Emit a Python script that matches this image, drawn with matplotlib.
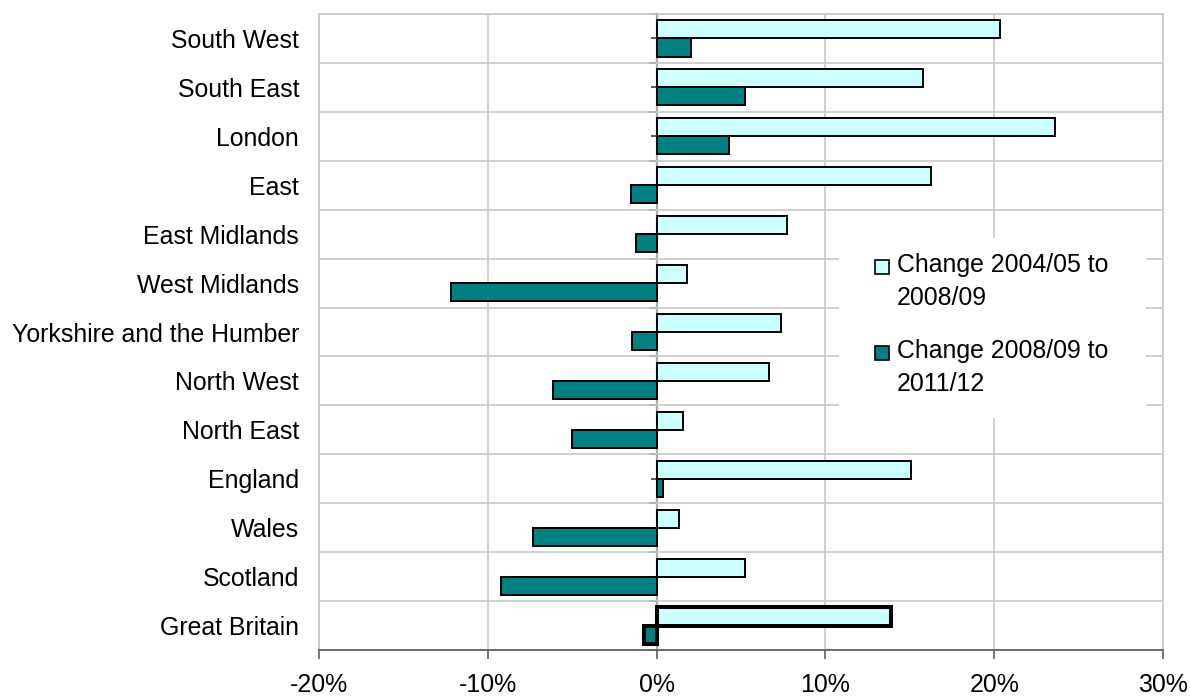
import matplotlib
matplotlib.use("Agg")
import matplotlib.pyplot as plt
from matplotlib.patches import Rectangle
import numpy as np

plt.rcParams['font.family'] = ['Liberation Sans', 'DejaVu Sans']

regions = ["South West", "South East", "London", "East", "East Midlands",
           "West Midlands", "Yorkshire and the Humber", "North West",
           "North East", "England", "Wales", "Scotland", "Great Britain"]
change_0405_0809 = [20.35, 15.76, 23.6, 16.25, 7.71, 1.8, 7.36, 6.65, 1.56,
                    15.1, 1.3, 5.22, 13.9]
change_0809_1112 = [2.03, 5.22, 4.28, -1.54, -1.2, -12.19, -1.44, -6.16,
                    -4.99, 0.37, -7.32, -9.23, -0.75]
series_labels = ["Change 2004/05 to\n2008/09", "Change 2008/09 to\n2011/12"]
x_ticks = [-20, -10, 0, 10, 20, 30]
x_tick_labels = ["-20%", "-10%", "0%", "10%", "20%", "30%"]

LIGHT = "#CCFFFF"
DARK = "#008080"
GRID = "#C8C8C8"
FS = 17.9

W, H = 1190, 698
fig = plt.figure(figsize=(W / 100, H / 100), dpi=100)
ax = fig.add_axes([319 / W, 48 / H, 844 / W, 636 / H])

n = len(regions)
y = np.arange(n)
bh = 0.37
lws = [1.4] * (n - 1) + [2.9]

ax.barh(y - bh / 2, change_0405_0809, height=bh, color=LIGHT,
        edgecolor="black", linewidth=lws, zorder=3)
ax.barh(y + bh / 2, change_0809_1112, height=bh, color=DARK,
        edgecolor="black", linewidth=lws, zorder=3)

ax.set_xlim(-20, 30)
ax.set_ylim(n - 0.5, -0.5)

ax.set_xticks(x_ticks)
ax.set_xticklabels(x_tick_labels, fontsize=FS)
ax.set_yticks(y)
ax.set_yticklabels(regions, fontsize=FS)
ax.set_yticks(np.arange(n + 1) - 0.5, minor=True)

ax.tick_params(axis='y', which='both', length=0, pad=14.4)
ax.tick_params(axis='x', which='major', length=6.5, width=1.2,
               color="#606060", pad=10.0, direction='out')

ax.grid(axis='x', which='major', color=GRID, linewidth=1.2, zorder=0)
ax.grid(axis='y', which='minor', color=GRID, linewidth=1.2, zorder=0)
ax.set_axisbelow(True)

for s in ['top', 'right', 'left']:
    ax.spines[s].set_color(GRID)
    ax.spines[s].set_linewidth(1.2)
ax.spines['bottom'].set_color("#606060")
ax.spines['bottom'].set_linewidth(1.3)

# y axis at 0
sec = ax.secondary_yaxis((0 - (-20)) / 50)
sec.set_yticks(np.arange(n + 1) - 0.5)
sec.set_yticks(y, minor=True)
sec.set_yticklabels([])
sec.tick_params(axis='y', which='major', length=5.8, width=1.2,
                color="#404040", direction='out')
sec.tick_params(axis='y', which='minor', length=4.3, width=1.2,
                color="#404040", direction='out')
sec.spines['left'].set_color("#202020")
sec.spines['left'].set_linewidth(1.5)
sec.spines['left'].set_zorder(4)

# legend (manual, no border, white background)
def fx(px):
    return px / W

def fy(py):
    return 1 - py / H

bg = Rectangle((fx(839), fy(418)), fx(1146) - fx(839), fy(238) - fy(418),
               transform=fig.transFigure, facecolor="white", edgecolor="none",
               zorder=5)
fig.patches.append(bg)
line_step = 30
for i, (lab, col) in enumerate(zip(series_labels, [LIGHT, DARK])):
    base = 274.5 + i * 86
    sq = Rectangle((fx(875), fy(base - 1)), fx(889) - fx(875),
                   fy(base - 15) - fy(base - 1), transform=fig.transFigure,
                   facecolor=col, edgecolor="black", linewidth=1.2, zorder=6)
    fig.patches.append(sq)
    fig.text(fx(897), fy(base + line_step), lab, fontsize=FS, ha='left',
             va='baseline', linespacing=1.44, zorder=7)

fig.savefig("out.png", dpi=100)
